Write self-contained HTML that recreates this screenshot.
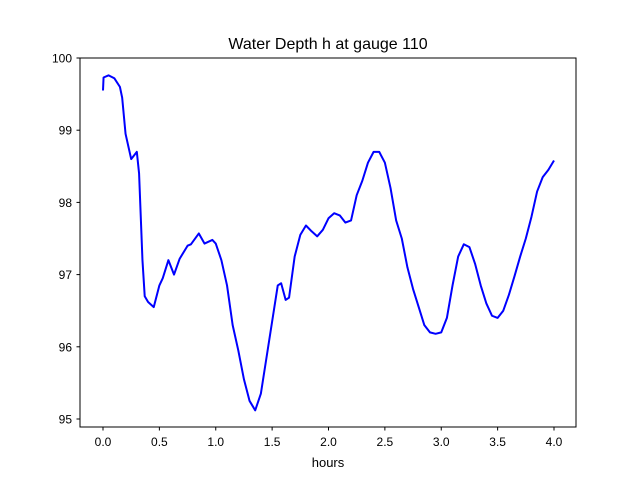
<!DOCTYPE html>
<html><head><meta charset="utf-8"><style>
body{margin:0;background:#fff;}
svg{display:block;font-family:"Liberation Sans","DejaVu Sans",sans-serif;}
</style></head><body>
<svg id="chart" width="640" height="480">
<rect x="0" y="0" width="640" height="480" fill="#fff"/>
<text x="328" y="49" font-size="16" text-anchor="middle">Water Depth h at gauge 110</text>
<g id="xticks"></g><g id="yticks"></g>
<path id="line" fill="none" stroke="#0000ff" stroke-width="2" stroke-linejoin="round"/>
<rect x="80" y="58" width="496" height="369" fill="none" stroke="#000" stroke-width="1"/>
<text x="328" y="467" font-size="13" text-anchor="middle">hours</text>
</svg>
<script>
const hours=[0,0.005,0.05,0.1,0.15,0.17,0.2,0.25,0.3,0.32,0.35,0.37,0.4,0.45,0.5,0.53,0.58,0.63,0.68,0.75,0.78,0.85,0.9,0.97,1.0,1.05,1.1,1.15,1.2,1.25,1.3,1.35,1.4,1.45,1.5,1.55,1.58,1.62,1.65,1.7,1.75,1.8,1.85,1.9,1.95,2.0,2.05,2.1,2.15,2.2,2.25,2.3,2.35,2.4,2.45,2.5,2.55,2.6,2.65,2.7,2.75,2.8,2.85,2.9,2.95,3.0,3.05,3.1,3.15,3.2,3.25,3.3,3.35,3.4,3.45,3.5,3.55,3.6,3.65,3.7,3.75,3.8,3.85,3.9,3.95,4.0];
const depth=[99.55,99.73,99.76,99.72,99.6,99.45,98.95,98.6,98.7,98.4,97.2,96.7,96.62,96.55,96.85,96.95,97.2,97.0,97.22,97.4,97.42,97.57,97.43,97.48,97.43,97.2,96.85,96.3,95.95,95.55,95.25,95.12,95.35,95.85,96.35,96.85,96.88,96.65,96.68,97.25,97.55,97.68,97.6,97.53,97.62,97.78,97.85,97.82,97.72,97.75,98.1,98.3,98.55,98.7,98.7,98.55,98.2,97.75,97.5,97.1,96.8,96.55,96.3,96.2,96.18,96.2,96.4,96.85,97.25,97.42,97.38,97.15,96.85,96.6,96.43,96.4,96.5,96.72,96.98,97.25,97.5,97.8,98.15,98.35,98.45,98.58];
const xTickLabels=["0.0","0.5","1.0","1.5","2.0","2.5","3.0","3.5","4.0"];
const yTickLabels=["95","96","97","98","99","100"];
const X=t=>103+t*112.75;
const Y=v=>58+(100-v)*72.2;
const ns="http://www.w3.org/2000/svg";
let d="";
hours.forEach((t,i)=>{d+=(i?"L":"M")+X(t).toFixed(2)+","+Y(depth[i]).toFixed(2);});
document.getElementById("line").setAttribute("d",d);
const xg=document.getElementById("xticks");
xTickLabels.forEach(l=>{
 const x=X(parseFloat(l));
 const ln=document.createElementNS(ns,"line");
 ln.setAttribute("x1",x);ln.setAttribute("x2",x);ln.setAttribute("y1",427);ln.setAttribute("y2",430.5);ln.setAttribute("stroke","#000");
 
 
 xg.appendChild(ln);
 const tx=document.createElementNS(ns,"text");
 tx.setAttribute("x",x);tx.setAttribute("y",446);tx.setAttribute("font-size","12");tx.setAttribute("text-anchor","middle");tx.textContent=l;
 
 
 xg.appendChild(tx);
});
const yg=document.getElementById("yticks");
yTickLabels.forEach(l=>{
 const y=Y(parseFloat(l));
 const ln=document.createElementNS(ns,"line");
 ln.setAttribute("x1",76.5);ln.setAttribute("x2",80);ln.setAttribute("y1",y);ln.setAttribute("y2",y);ln.setAttribute("stroke","#000");
 
 
 yg.appendChild(ln);
 const tx=document.createElementNS(ns,"text");
 tx.setAttribute("x",72);tx.setAttribute("y",y+4.5);tx.setAttribute("font-size","12");tx.setAttribute("text-anchor","end");tx.textContent=l;
 
 
 yg.appendChild(tx);
});
</script>
</body></html>
